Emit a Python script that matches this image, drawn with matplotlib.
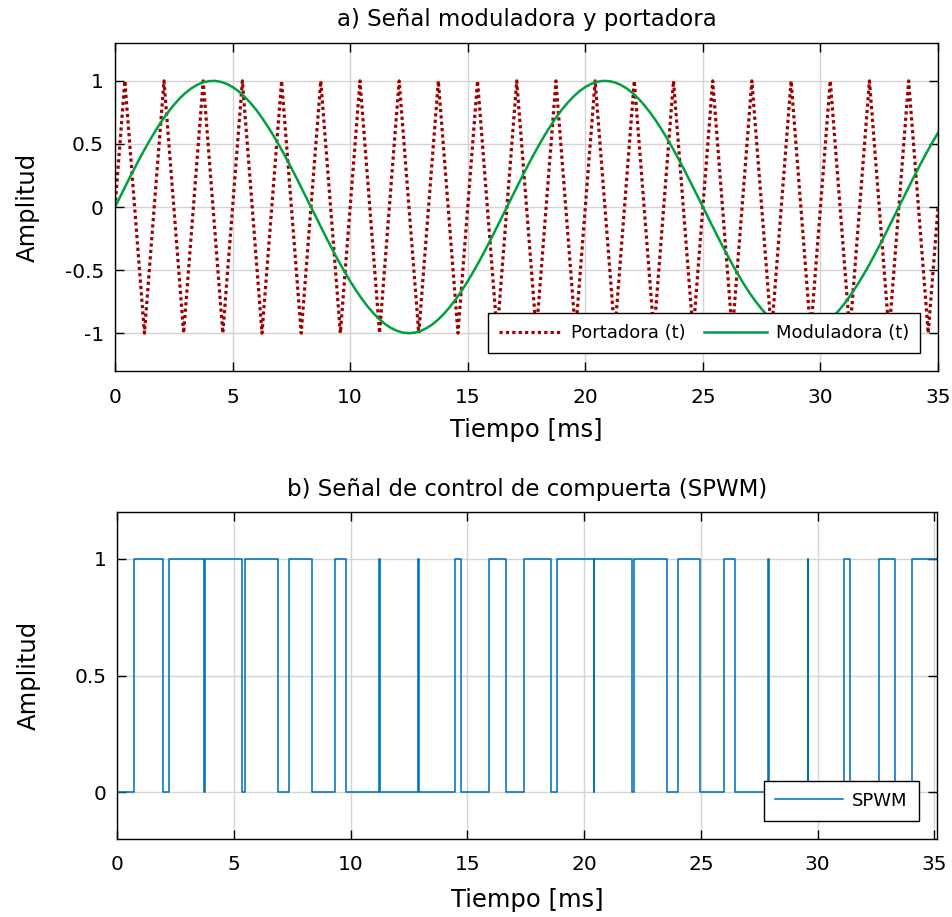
import numpy as np
import matplotlib
matplotlib.use('Agg')
import matplotlib.pyplot as plt

# carrier (triangle) vertices, time in ms
carrier_t = [0, 0.417, 1.25, 2.083, 2.917, 3.75, 4.583, 5.417, 6.25, 7.083, 7.917,
             8.75, 9.583, 10.417, 11.25, 12.083, 12.917, 13.75, 14.583, 15.417, 16.25,
             17.083, 17.917, 18.75, 19.583, 20.417, 21.25, 22.083, 22.917, 23.75, 24.583,
             25.417, 26.25, 27.083, 27.917, 28.75, 29.583, 30.417, 31.25, 32.083, 32.917,
             33.75, 34.583, 35]
carrier_v = [0] + [1, -1] * 21 + [0]

# modulating signal, sampled every 0.25 ms
mod_t = [i * 0.25 for i in range(141)]
mod_v = [0.0, 0.094, 0.187, 0.279, 0.368, 0.454, 0.536, 0.613, 0.685, 0.750,
         0.809, 0.861, 0.905, 0.941, 0.969, 0.988, 0.998, 1.000, 0.992, 0.976,
         0.951, 0.918, 0.876, 0.827, 0.771, 0.707, 0.637, 0.562, 0.482, 0.397,
         0.309, 0.218, 0.125, 0.031, -0.063, -0.156, -0.249, -0.339, -0.426, -0.509,
         -0.588, -0.661, -0.729, -0.790, -0.844, -0.891, -0.930, -0.960, -0.982, -0.996,
         -1.0, -0.996, -0.982, -0.960, -0.930, -0.891, -0.844, -0.790, -0.729, -0.661,
         -0.588, -0.509, -0.426, -0.339, -0.249, -0.156, -0.063, 0.031, 0.125, 0.218,
         0.309, 0.397, 0.482, 0.562, 0.637, 0.707, 0.771, 0.827, 0.876, 0.918,
         0.951, 0.976, 0.992, 1.000, 0.998, 0.988, 0.969, 0.941, 0.905, 0.861,
         0.809, 0.750, 0.685, 0.613, 0.536, 0.454, 0.368, 0.279, 0.187, 0.094,
         0.0, -0.094, -0.187, -0.279, -0.368, -0.454, -0.536, -0.613, -0.685, -0.750,
         -0.809, -0.861, -0.905, -0.941, -0.969, -0.988, -0.998, -1.000, -0.992, -0.976,
         -0.951, -0.918, -0.876, -0.827, -0.771, -0.707, -0.637, -0.562, -0.482, -0.397,
         -0.309, -0.218, -0.125, -0.031, 0.063, 0.156, 0.249, 0.339, 0.426, 0.509,
         0.588]

# SPWM switching instants (ms), level holds until next instant
spwm_t = [0, 0.73, 1.94, 2.20, 3.73, 3.75, 5.36, 5.48, 6.89, 7.35, 8.34, 9.31, 9.79,
          11.21, 11.27, 12.90, 12.92, 14.48, 14.72, 15.94, 16.65, 17.40, 18.59, 18.85,
          20.41, 20.43, 22.04, 22.12, 23.55, 24.02, 24.98, 25.98, 26.45, 27.89, 27.93,
          29.57, 29.60, 31.13, 31.37, 32.61, 33.32, 34.06, 35.1]
spwm_v = [0] + [1, 0] * 20 + [1, 1]

plt.rcParams['font.family'] = ['DejaVu Sans']
plt.rcParams['font.size'] = 14

fig = plt.figure(figsize=(9.53, 9.17), dpi=100)
ax1 = fig.add_axes([0.1207, 0.5954, 0.8636, 0.3577])
ax2 = fig.add_axes([0.1231, 0.0854, 0.8598, 0.3559])

def style(ax):
    ax.grid(True, color='#d4d4d4', lw=1)
    ax.set_axisbelow(True)
    ax.tick_params(direction='in', top=True, right=True, length=6.5, width=1,
                   labelsize=14.5)
    ax.tick_params(axis='y', pad=8)
    ax.tick_params(axis='x', pad=12)
    for s in ax.spines.values():
        s.set_linewidth(1.0)

ax1.plot(carrier_t, carrier_v, color='#a00000', lw=2.3, ls=(0, (1, 1)),
         label='Portadora (t)')
ax1.plot(mod_t, mod_v, color='#00a040', lw=1.8, label='Moduladora (t)')
ax1.set_xlim(0, 35)
ax1.set_ylim(-1.3, 1.3)
ax1.set_yticks([-1, -0.5, 0, 0.5, 1])
ax1.set_yticklabels(['-1', '-0.5', '0', '0.5', '1'])
ax1.set_xticks(range(0, 36, 5))
style(ax1)
ax1.set_title('a) Señal moduladora y portadora', fontsize=16.5, pad=12)
ax1.set_xlabel('Tiempo [ms]', fontsize=17.5, labelpad=8)
ax1.set_ylabel('Amplitud', fontsize=17.5, labelpad=18)
leg1 = ax1.legend(loc='lower right', ncol=2, fontsize=13, fancybox=False,
                  edgecolor='black', framealpha=1, handlelength=3.5,
                  borderaxespad=1.0, borderpad=0.6, columnspacing=1.0,
                  handletextpad=0.5)
leg1.get_frame().set_linewidth(1.0)

ax2.step(spwm_t, spwm_v, where='post', color='#0072bd', lw=1.15, label='SPWM')
ax2.set_xlim(0, 35.1)
ax2.set_ylim(-0.2, 1.2)
ax2.set_yticks([0, 0.5, 1])
ax2.set_yticklabels(['0', '0.5', '1'])
ax2.set_xticks(range(0, 36, 5))
style(ax2)
ax2.set_title('b) Señal de control de compuerta (SPWM)', fontsize=16.5, pad=12)
ax2.set_xlabel('Tiempo [ms]', fontsize=17.5, labelpad=10)
ax2.set_ylabel('Amplitud', fontsize=17.5, labelpad=24)
leg2 = ax2.legend(loc='lower right', fontsize=13, fancybox=False,
                  edgecolor='black', framealpha=1, handlelength=3.8,
                  borderaxespad=1.0, borderpad=0.6, handletextpad=0.5)
leg2.get_frame().set_linewidth(1.0)

fig.savefig('out.png', dpi=100)
